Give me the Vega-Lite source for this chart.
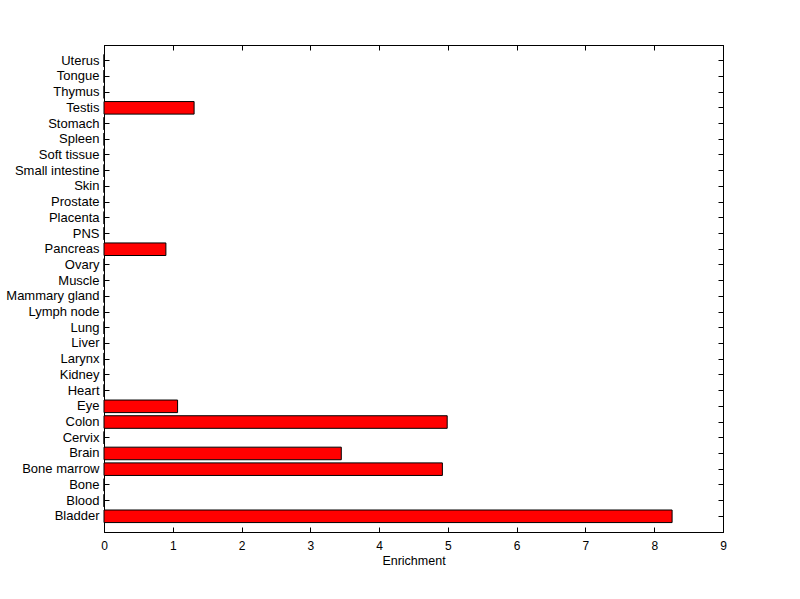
{
  "$schema": "https://vega.github.io/schema/vega-lite/v6.json",
  "width": 619,
  "height": 487,
  "autosize": {"type": "none"},
  "padding": {"left": 104, "top": 45, "right": 77, "bottom": 67},
  "background": "white",
  "config": {
    "view": {"stroke": "black", "strokeWidth": 1},
    "axis": {
      "domainColor": "black",
      "tickColor": "black",
      "labelColor": "black",
      "titleColor": "black",
      "labelFont": "Liberation Sans",
      "titleFont": "Liberation Sans",
      "labelFontSize": 13,
      "titleFontSize": 12.5,
      "titleFontWeight": "normal",
      "grid": false,
      "tickSize": -5,
      "labelFlush": false
    }
  },
  "data": {
    "values": [
      {"tissue": "Uterus", "enrichment": 0},
      {"tissue": "Tongue", "enrichment": 0},
      {"tissue": "Thymus", "enrichment": 0},
      {"tissue": "Testis", "enrichment": 1.31},
      {"tissue": "Stomach", "enrichment": 0},
      {"tissue": "Spleen", "enrichment": 0},
      {"tissue": "Soft tissue", "enrichment": 0},
      {"tissue": "Small intestine", "enrichment": 0},
      {"tissue": "Skin", "enrichment": 0},
      {"tissue": "Prostate", "enrichment": 0},
      {"tissue": "Placenta", "enrichment": 0},
      {"tissue": "PNS", "enrichment": 0},
      {"tissue": "Pancreas", "enrichment": 0.9},
      {"tissue": "Ovary", "enrichment": 0},
      {"tissue": "Muscle", "enrichment": 0},
      {"tissue": "Mammary gland", "enrichment": 0},
      {"tissue": "Lymph node", "enrichment": 0},
      {"tissue": "Lung", "enrichment": 0},
      {"tissue": "Liver", "enrichment": 0},
      {"tissue": "Larynx", "enrichment": 0},
      {"tissue": "Kidney", "enrichment": 0},
      {"tissue": "Heart", "enrichment": 0},
      {"tissue": "Eye", "enrichment": 1.07},
      {"tissue": "Colon", "enrichment": 4.99},
      {"tissue": "Cervix", "enrichment": 0},
      {"tissue": "Brain", "enrichment": 3.45},
      {"tissue": "Bone marrow", "enrichment": 4.92},
      {"tissue": "Bone", "enrichment": 0},
      {"tissue": "Blood", "enrichment": 0},
      {"tissue": "Bladder", "enrichment": 8.26}
    ]
  },
  "layer": [
    {
      "mark": {"type": "bar", "color": "#ff0000", "stroke": "black", "strokeWidth": 1},
      "encoding": {
        "y": {
          "field": "tissue", "type": "nominal", "sort": null,
          "scale": {"paddingInner": 0.2, "paddingOuter": 0.6},
          "axis": {"title": null, "orient": "left", "labelPadding": 10}
        },
        "x": {
          "field": "enrichment", "type": "quantitative",
          "scale": {"domain": [0, 9], "nice": false},
          "axis": {"title": "Enrichment", "orient": "bottom", "values": [0,1,2,3,4,5,6,7,8,9], "labelFontSize": 12, "labelPadding": 13, "titlePadding": 3}
        }
      }
    },
    {
      "mark": {"type": "bar", "opacity": 0},
      "encoding": {
        "y": {
          "field": "tissue", "type": "nominal", "sort": null,
          "axis": {"title": null, "orient": "right", "labels": false}
        },
        "x": {
          "field": "enrichment", "type": "quantitative",
          "axis": {"title": null, "orient": "top", "labels": false, "values": [0,1,2,3,4,5,6,7,8,9]}
        }
      }
    }
  ],
  "resolve": {"axis": {"x": "independent", "y": "independent"}}
}
